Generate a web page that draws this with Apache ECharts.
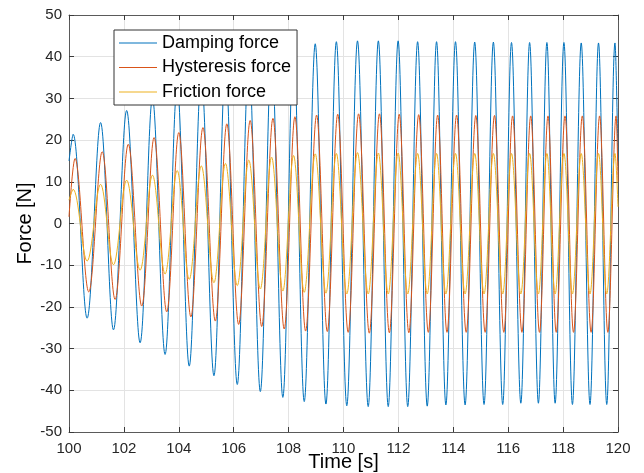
<!DOCTYPE html>
<html>
<head>
<meta charset="utf-8">
<script src="https://cdn.jsdelivr.net/npm/echarts@6/dist/echarts.min.js"></script>
<style>
html,body{margin:0;padding:0;background:#fff;}
#chart{width:644px;height:473px;}
</style>
</head>
<body>
<div id="chart"></div>
<script>
// Times [s] of read extrema (start, alternating peaks/troughs, end) for damping and friction force
const extremaTimes = [100.00,
  100.15,100.66,101.15,101.62,102.10,102.59,103.04,103.50,103.94,104.38,
  104.82,105.28,105.70,106.13,106.55,106.97,107.38,107.79,108.18,108.57,
  108.97,109.36,109.74,110.12,110.51,110.90,111.27,111.63,111.99,112.34,
  112.70,113.05,113.39,113.73,114.08,114.43,114.78,115.12,115.46,115.80,
  116.12,116.46,116.78,117.10,117.41,117.71,118.03,118.34,118.66,118.98,
  119.29,119.59,119.89,
  120.00];
// Damping force [N]
const dampingForce = [15,
  21.4,-22.7,24.2,-25.5,27.1,-28.6,30.0,-31.4,32.8,-34.2,
  35.4,-36.5,37.6,-38.6,39.5,-40.3,41.0,-41.7,42.2,-42.7,
  43.1,-43.3,43.6,-43.7,43.8,-43.9,43.8,-43.9,43.8,-43.9,
  43.6,-43.8,43.6,-43.5,43.6,-43.5,43.5,-43.4,43.5,-43.4,
  43.4,-43.1,43.4,-43.1,43.4,-43.1,43.4,-43.4,43.3,-43.4,
  43.3,-43.4,43.3,
  15];
// Friction force [N]
const frictionForce = [5.6,
  8.2,-9.0,9.4,-9.9,10.4,-11.2,11.6,-12.1,12.7,-13.4,
  13.8,-14.2,14.4,-14.9,15.2,-15.7,15.9,-16.2,16.3,-16.5,
  16.7,-16.7,16.8,-16.9,17.0,-16.9,16.9,-16.9,16.9,-16.9,
  16.8,-16.9,16.8,-16.9,16.8,-16.9,16.8,-16.9,16.8,-16.9,
  16.8,-16.9,16.8,-16.9,16.8,-16.9,16.8,-16.9,16.8,-16.9,
  16.8,-16.9,16.8,
  4];
// Times [s] of read extrema for hysteresis force (slightly lagging)
const hysteresisTimes = [100.00,
  100.22,100.72,101.21,101.68,102.16,102.65,103.10,103.56,104.00,104.44,
  104.88,105.33,105.75,106.18,106.60,107.02,107.43,107.84,108.23,108.62,
  109.02,109.41,109.79,110.17,110.55,110.94,111.31,111.67,112.03,112.38,
  112.74,113.09,113.43,113.77,114.12,114.47,114.82,115.16,115.50,115.84,
  116.16,116.50,116.82,117.14,117.45,117.75,118.07,118.38,118.70,119.02,
  119.33,119.63,119.93,
  120.00];
// Hysteresis force [N]
const hysteresisForce = [1.6,
  15.6,-16.4,17.2,-18.2,19.0,-19.8,20.6,-21.2,21.8,-22.4,
  23.0,-23.4,23.9,-24.2,24.7,-24.7,25.2,-25.3,25.6,-25.8,
  26.0,-25.9,26.2,-26.1,26.3,-26.3,26.3,-26.2,26.2,-26.2,
  26.1,-26.1,26.0,-26.1,26.0,-26.1,25.9,-26.1,25.9,-26.1,
  25.8,-26.1,25.8,-26.1,25.8,-26.1,25.8,-26.1,25.8,-26.1,
  25.8,-26.1,25.8,
  10];

const seriesNames = ['Damping force','Hysteresis force','Friction force'];
const xTicks = {min:100, max:120, step:2};
const yTicks = {min:-50, max:50, step:10};

const FONT = '"Liberation Sans", Arial, Helvetica, sans-serif';
const pair = (ts, vs) => ts.map((t, i) => [t, vs[i]]);

const chart = echarts.init(document.getElementById('chart'), null, {renderer:'canvas'});
const axisLineStyle = {color:'#5a5a5a', width:1};
const tickStyle = {show:true, inside:true, length:5, lineStyle:{color:'#3a3a3a', width:1}};
const gridStyle = {show:true, lineStyle:{color:'#e3e3e3', width:1}};

function mkSeries(name, data, color){
  return {
    name, type:'line', data, xAxisIndex:0, yAxisIndex:0,
    smooth:0.36, symbol:'none', showSymbol:false,
    lineStyle:{color, width:1}, itemStyle:{color},
    animation:false, silent:true
  };
}

chart.setOption({
  backgroundColor:'#ffffff',
  animation:false,
  textStyle:{fontFamily:FONT},
  grid:{left:69, right:26, top:15, bottom:41, containLabel:false, outerBoundsMode:'none'},
  legend:{
    orient:'vertical', left:114, top:30,
    padding:[4,6,4,5], itemGap:6.5, itemWidth:38, itemHeight:14,
    icon:'path://M0,0H38V1H0Z', symbolKeepAspect:true,
    backgroundColor:'#ffffff', borderColor:'#333333', borderWidth:1, borderRadius:0,
    textStyle:{fontFamily:FONT, fontSize:18, lineHeight:18, color:'#000', padding:[0,0,0,0]},
    data:seriesNames
  },
  xAxis:[
    {type:'value', position:'bottom', min:xTicks.min, max:xTicks.max, interval:xTicks.step,
     name:'Time [s]', nameLocation:'middle', nameGap:20, nameMoveOverlap:false,
     nameTextStyle:{fontFamily:FONT, fontSize:20, color:'#000'},
     axisLine:{show:true, onZero:false, lineStyle:axisLineStyle},
     axisTick:tickStyle,
     axisLabel:{fontFamily:FONT, fontSize:15, color:'#262626', margin:9},
     splitLine:gridStyle},
    {type:'value', position:'top', min:xTicks.min, max:xTicks.max, interval:xTicks.step,
     axisLine:{show:true, onZero:false, lineStyle:axisLineStyle},
     axisTick:tickStyle, axisLabel:{show:false}, splitLine:{show:false}}
  ],
  yAxis:[
    {type:'value', position:'left', min:yTicks.min, max:yTicks.max, interval:yTicks.step,
     name:'Force [N]', nameLocation:'middle', nameGap:34, nameRotate:90, nameMoveOverlap:false,
     nameTextStyle:{fontFamily:FONT, fontSize:20, color:'#000'},
     axisLine:{show:true, onZero:false, lineStyle:axisLineStyle},
     axisTick:tickStyle,
     axisLabel:{fontFamily:FONT, fontSize:15, color:'#262626', margin:7},
     splitLine:gridStyle},
    {type:'value', position:'right', min:yTicks.min, max:yTicks.max, interval:yTicks.step,
     axisLine:{show:true, onZero:false, lineStyle:axisLineStyle},
     axisTick:tickStyle, axisLabel:{show:false}, splitLine:{show:false}}
  ],
  series:[
    mkSeries(seriesNames[0], pair(extremaTimes, dampingForce), '#0072BD'),
    mkSeries(seriesNames[1], pair(hysteresisTimes, hysteresisForce), '#D95319'),
    mkSeries(seriesNames[2], pair(extremaTimes, frictionForce), '#EDB120')
  ]
});
</script>
</body>
</html>
